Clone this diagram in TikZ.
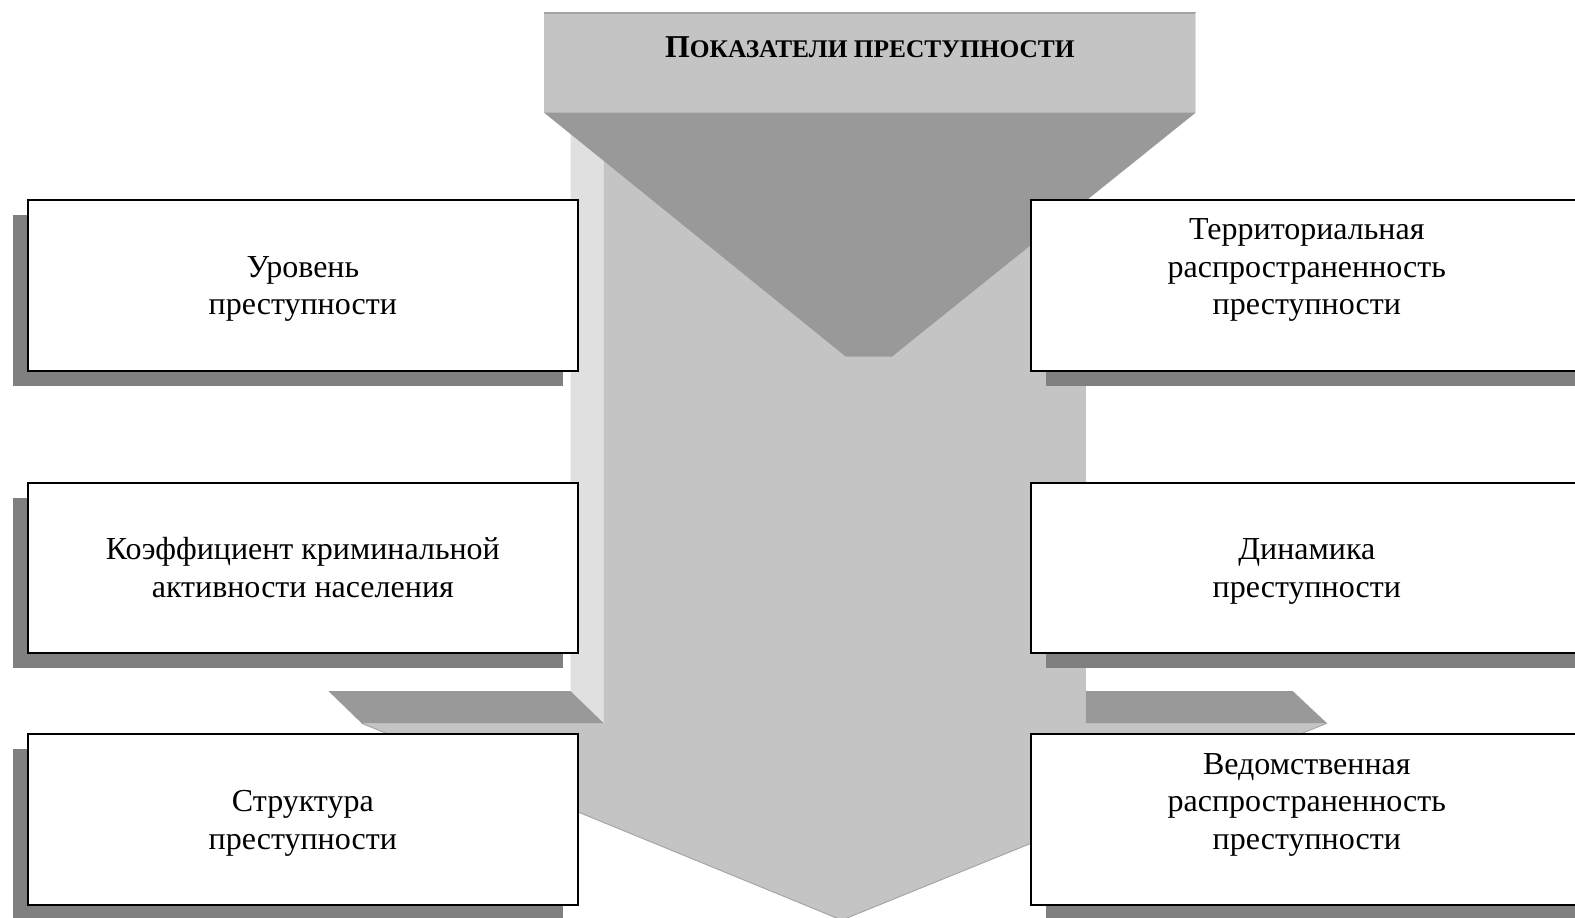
\documentclass[tikz,border=0pt]{standalone}
\usepackage{fontspec}
\setmainfont{Liberation Serif}
\usetikzlibrary{shadows}
\definecolor{facegray}{gray}{0.77}
\definecolor{sidegray}{gray}{0.88}
\definecolor{darkgray}{gray}{0.6}
\definecolor{shadowgray}{gray}{0.5}
\newcommand{\topstrut}{\rule{0pt}{32.5pt}}
\begin{document}
\begin{tikzpicture}[x=1.00446pt,y=-1.00446pt,
  box/.style={draw=black, line width=2pt, fill=white, minimum height=170.8pt,
    align=center, inner sep=0pt, font=\fontsize{32}{37.5}\selectfont},
  leftbox/.style={box, minimum width=549.5pt,
    drop shadow={shadow xshift=-15pt, shadow yshift=-15pt, fill=shadowgray, opacity=1}},
  rightbox/.style={box, minimum width=552.5pt,
    drop shadow={shadow xshift=15pt, shadow yshift=-15pt, fill=shadowgray, opacity=1}},
  face/.style={fill=facegray},
  side/.style={fill=sidegray},
  dark/.style={fill=darkgray}]
\useasboundingbox (0,0) rectangle (1568,913);
\fill[white] (0,0) rectangle (1568,913);
% arrow body
\fill[side] (568,112) -- (601,112) -- (601,720) -- (568,688) -- cycle;
\fill[face] (601,112) -- (1081,112) -- (1081,720) -- (1321,720) -- (838,916)
  -- (360,720) -- (601,720) -- cycle;
\draw[gray!70!white, line width=1pt] (360,720) -- (838,916) -- (1321,720);
% wings
\fill[dark] (327,688) -- (568,688) -- (601,720) -- (360,720) -- cycle;
\fill[dark] (1081,688) -- (1287,688) -- (1321,720) -- (1081,720) -- cycle;
% header
\node[face, minimum width=651pt, minimum height=99.5pt, inner sep=0pt] (hdr) at (866,62.5) {};
\draw[gray!72!white, line width=1.5pt] (hdr.north west) -- (hdr.north east);
\draw[sidegray, line width=1.5pt] (hdr.north east) -- (hdr.south east);
\fill[dark] (hdr.south west) -- (hdr.south east) -- (888,355) -- (842,355) -- cycle;
\node[font=\bfseries] (title) at (866,47)
  {\fontsize{31.8}{32}\selectfont П\fontsize{25.4}{32}\selectfont ОКАЗАТЕЛИ ПРЕСТУПНОСТИ};
% boxes
\node[leftbox] (b1) at (301.5,284) {\topstrut Уровень\\преступности\strut};
\node[leftbox] (b2) at (301.5,565.5) {\topstrut Коэффициент криминальной\\активности населения\strut};
\node[leftbox] (b3) at (301.5,816) {\topstrut Структура\\преступности\strut};
\node[rightbox] (b4) at (1301,284) {\topstrut Территориальная\\распространенность\\преступности\\\strut};
\node[rightbox] (b5) at (1301,565.5) {\topstrut Динамика\\преступности\strut};
\node[rightbox] (b6) at (1301,816) {\topstrut Ведомственная\\распространенность\\преступности\\\strut};
\end{tikzpicture}
\end{document}
